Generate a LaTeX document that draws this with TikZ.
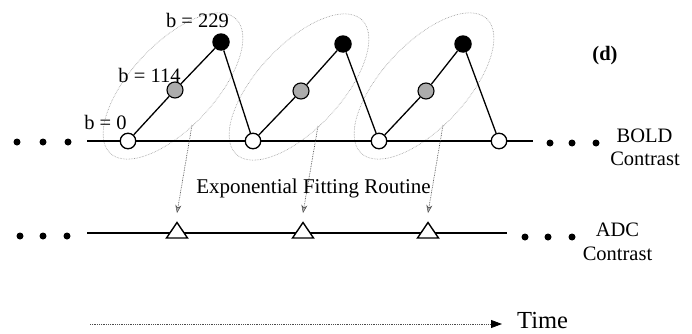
\documentclass[tikz,border=0pt]{standalone}
\usepackage{fontspec}
\setmainfont{Liberation Serif}
\usetikzlibrary{arrows.meta,calc}
\begin{document}
\begin{tikzpicture}[x=1pt,y=1pt,
  wc/.style={circle,draw=black,fill=white,line width=1.3pt,minimum size=15.5pt,inner sep=0pt},
  bc/.style={circle,fill=black,minimum size=17.5pt,inner sep=0pt},
  gc/.style={circle,draw=black,line width=1.1pt,fill=gray!65,minimum size=16pt,inner sep=0pt},
  dotn/.style={circle,fill=black,minimum size=7pt,inner sep=0pt},
  mainline/.style={line width=1.7pt},
  diag/.style={line width=1.3pt},
  ell/.style={gray!85,densely dotted,line width=0.6pt},
  fitarrow/.style={gray!60!black,densely dotted,line width=0.7pt,-{Stealth[length=8pt,width=6pt,fill=gray!60,line width=0.5pt]}},
  timearrow/.style={gray!60!black,densely dotted,line width=0.8pt,-{Triangle[length=11pt,width=8pt,color=black,fill=black]}},
  lbl/.style={font=\fontsize{20.5}{24}\selectfont,inner sep=0pt},
  tri/.style={draw=black,fill=white,line width=1.4pt,line join=miter}
]
\useasboundingbox (0,0) rectangle (692,333);

% BOLD row circles
\node[wc] (w1) at (128,192) {};
\node[wc] (w2) at (253,192) {};
\node[wc] (w3) at (379,192) {};
\node[wc] (w4) at (499,192) {};
\node[gc] (g1) at (175,243) {};
\node[gc] (g2) at (301,242) {};
\node[gc] (g3) at (426,242) {};
\node[bc] (b1) at (221,291) {};
\node[bc] (b2) at (343,289) {};
\node[bc] (b3) at (463,289) {};

% ellipses
\coordinate (e1) at (173,247);
\coordinate (e2) at (299,246);
\coordinate (e3) at (424,247);
\foreach \i in {1,2,3}{
  \draw[ell] (e\i) ellipse [x radius=92, y radius=42, rotate=47];
}

% BOLD line
\coordinate (boldL) at (87,192);
\coordinate (boldR) at (533,192);
\draw[mainline] (boldL) -- (w1) -- (w2) -- (w3) -- (w4) -- (boldR);

% diagonals
\draw[diag] (w1) -- (g1) -- (b1) -- (w2);
\draw[diag] (w2) -- (g2) -- (b2) -- (w3);
\draw[diag] (w3) -- (g3) -- (b3) -- (w4);

% dots
\node[dotn] (bdl1) at (17,191) {};
\node[dotn] (bdl2) at (43,191) {};
\node[dotn] (bdl3) at (68,191) {};
\node[dotn] (bdr1) at (550,190) {};
\node[dotn] (bdr2) at (572,190) {};
\node[dotn] (bdr3) at (596,190) {};
\node[dotn] (adl1) at (20,97) {};
\node[dotn] (adl2) at (43,97) {};
\node[dotn] (adl3) at (67,97) {};
\node[dotn] (adr1) at (525,96) {};
\node[dotn] (adr2) at (548,96) {};
\node[dotn] (adr3) at (572,96) {};

% ADC line
\coordinate (adcL) at (87,100);
\coordinate (adcR) at (507,100);
\draw[mainline] (adcL) -- (adcR);

% triangles
\coordinate (t1) at (177,95);
\coordinate (t2) at (303,95);
\coordinate (t3) at (428,95);
\foreach \i in {1,2,3}{
  \draw[tri] ($(t\i)+(-10.5,0)$) -- ($(t\i)+(0,15.5)$) -- ($(t\i)+(10.5,0)$) -- cycle;
}

% fitting arrows
\foreach \i in {1,2,3}{
  \coordinate (s\i) at ($(e\i)+(19,-39)$);
  \coordinate (a\i) at ($(t\i)+(0,25)$);
  \draw[fitarrow] (s\i) -- (a\i);
}

% labels
\node[lbl,anchor=base] (lb229) at (197.5,306) {b = 229};
\node[lbl,anchor=base] (lb114) at (149.5,251) {b = 114};
\node[lbl,anchor=base] (lb0) at (105.5,204) {b = 0};
\node[lbl,anchor=base,font=\fontsize{20.5}{24}\selectfont\bfseries] (dlab) at (605,273) {(d)};
\node[lbl,anchor=base] (bold1) at (644.5,191) {BOLD};
\node[lbl,anchor=base] (bold2) at (645,168) {Contrast};
\node[lbl,anchor=base] (adc1) at (617.5,97) {ADC};
\node[lbl,anchor=base] (adc2) at (617.5,73) {Contrast};
\node[lbl,anchor=base,font=\fontsize{21}{24}\selectfont] (efr) at (313.5,140) {Exponential Fitting Routine};

% time arrow
\coordinate (timeL) at (90,9);
\coordinate (timeR) at (502,9);
\draw[timearrow] (timeL) -- (timeR);
\node[lbl,anchor=base west,font=\fontsize{24.5}{28}\selectfont] (time) at (517,5) {Time};
\end{tikzpicture}
\end{document}
